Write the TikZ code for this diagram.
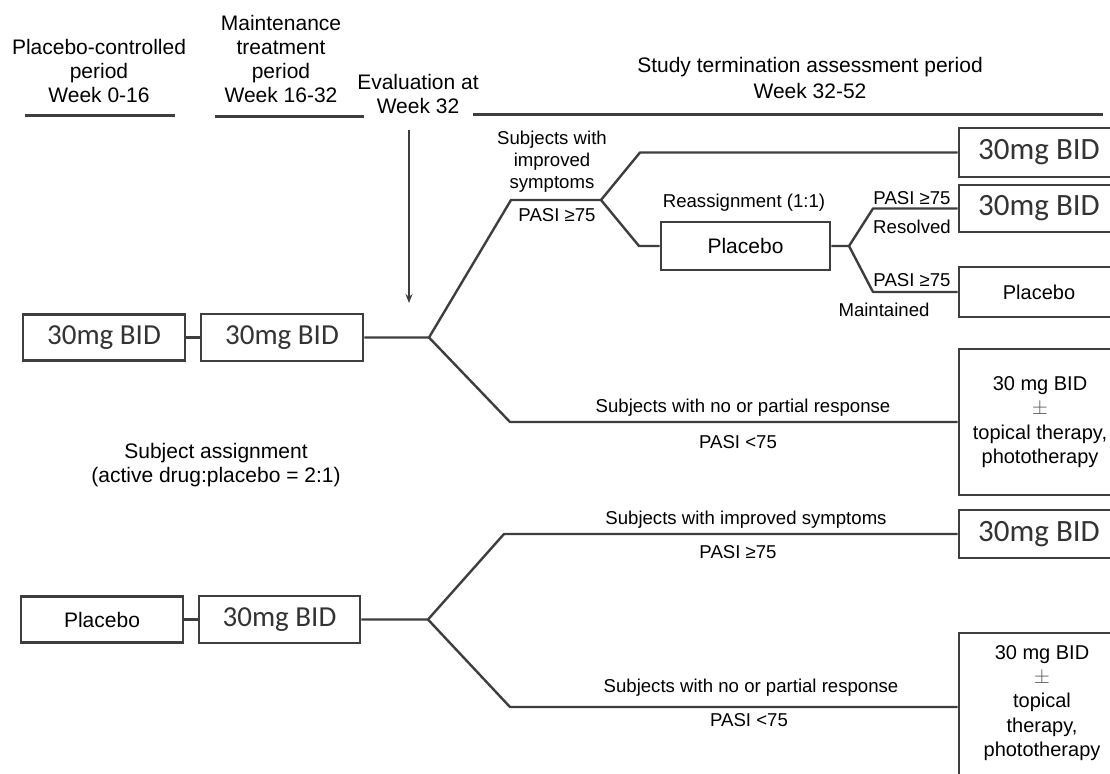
\documentclass[tikz,border=0pt]{standalone}
\usepackage{fontspec}
\setmainfont{Liberation Sans}
\newfontfamily\calfont{Carlito}
\usetikzlibrary{arrows.meta}
\definecolor{linegray}{HTML}{3E3E3E}
\definecolor{drugtext}{HTML}{333333}
\definecolor{pmgray}{HTML}{555555}
\begin{document}
\begin{tikzpicture}[x=1pt,y=-1pt,
  ln/.style={draw=linegray,line width=2.4pt,line join=round},
  hline/.style={draw=linegray,line width=3pt},
  box/.style={draw=linegray,line width=2.6pt,rectangle,inner sep=0pt},
  drug/.style={font=\calfont\fontsize{29}{30}\selectfont,text=drugtext},
  drugR/.style={font=\calfont\fontsize{31}{32}\selectfont,text=drugtext},
  plain/.style={font=\fontsize{21}{24}\selectfont},
  hdr/.style={font=\fontsize{21}{24}\selectfont,align=center,inner sep=0pt},
  lbl/.style={font=\fontsize{18.6}{22}\selectfont,align=center,inner sep=0pt},
  multi/.style={font=\fontsize{20}{24.5}\selectfont,align=center,inner sep=0pt},
]
\useasboundingbox (0,0) rectangle (1110,773);
\clip (0,0) rectangle (1110,773);

% headers
\node[hdr] (h1) at (99,71) {Placebo-controlled\\period\\Week 0-16};
\node[hdr] (h2) at (281,58.5) {Maintenance\\treatment\\period\\Week 16-32};
\node[hdr] (h3) at (418,94) {Evaluation at\\Week 32};
\node[hdr,font=\fontsize{21}{26.5}\selectfont] (h4) at (810,78) {Study termination assessment period\\Week 32-52};
\draw[hline] (25,116) -- (175,116);
\draw[hline] (215,116.5) -- (364,116.5);
\draw[hline] (473,115) -- (1103,115);

% evaluation arrow
\coordinate (a1) at (409,130);
\coordinate (a2) at (409,303);
\draw[draw=linegray,line width=2pt,-{Stealth[length=9pt,width=7pt]}] (a1) -- (a2);

% row 1
\node[box,drug,minimum width=162pt,minimum height=46pt] (b1) at (104,337.5) {30mg BID};
\node[box,drug,minimum width=162pt,minimum height=47pt] (b2) at (282,337.5) {30mg BID};
\draw[ln] (b1.east) -- (b2.west);

\node[box,drugR,minimum width=160pt,minimum height=49pt] (bA) at (1039,152.5) {30mg BID};
\node[box,plain,minimum width=169pt,minimum height=48pt] (plc) at (745.5,246) {Placebo};
\node[box,drugR,minimum width=160pt,minimum height=47pt] (bB) at (1039,208.5) {30mg BID};
\node[box,plain,font=\fontsize{20}{24}\selectfont,minimum width=160pt,minimum height=50pt] (bC) at (1039,292) {Placebo};
\node[box,minimum width=160pt,minimum height=146pt] (bD) at (1039,422) {};
\node[multi] (tD) at (1040,422) {30 mg BID\\{\color{pmgray}$\fontsize{17}{24.5}\selectfont\pm$}\\topical therapy,\\phototherapy};

\coordinate (j1) at (429,337.5);
\coordinate (u1) at (511,200);
\coordinate (u2) at (601,200);
\coordinate (u3) at (640,152.5);
\coordinate (u4) at (639,246);
\coordinate (j3) at (849,246);
\coordinate (r1) at (873,208.5);
\coordinate (r2) at (873,292);
\coordinate (d1) at (510,422);

\draw[ln] (b2.east) -- (j1) -- (u1) -- (u2) -- (u3) -- (bA.west);
\draw[ln] (u2) -- (u4) -- (plc.west);
\draw[ln] (plc.east) -- (j3) -- (r1) -- (bB.west);
\draw[ln] (j3) -- (r2) -- (bC.west);
\draw[ln] (j1) -- (d1) -- (bD.west);

\node[lbl] (l1) at (552,162) {Subjects with\\improved\\symptoms};
\node[lbl] (l2) at (557,215) {PASI ≥75};
\node[lbl] (l3) at (744,203) {Reassignment (1:1)};
\node[lbl] (l4) at (912,198) {PASI ≥75};
\node[lbl] (l5) at (912,227) {Resolved};
\node[lbl] (l6) at (912,280) {PASI ≥75};
\node[lbl] (l7) at (884,310) {Maintained};
\node[lbl] (l8) at (743,408) {Subjects with no or partial response};
\node[lbl] (l9) at (738,442) {PASI <75};

% assignment
\node[hdr] (sa) at (216,465) {Subject assignment\\(active drug:placebo = 2:1)};

% row 2
\node[box,plain,minimum width=162pt,minimum height=46pt] (p2) at (102,619.5) {Placebo};
\node[box,drug,minimum width=161pt,minimum height=47pt] (b3) at (279.5,619.5) {30mg BID};
\draw[ln] (p2.east) -- (b3.west);

\node[box,drugR,minimum width=160pt,minimum height=48pt] (bE) at (1039,534) {30mg BID};
\node[box,minimum width=160pt,minimum height=148pt] (bF) at (1039,707) {};
\node[multi,font=\fontsize{20}{24.3}\selectfont] (tF) at (1042,703) {30 mg BID\\{\color{pmgray}$\fontsize{17}{24.3}\selectfont\pm$}\\topical\\therapy,\\phototherapy};

\coordinate (j2) at (428,619.5);
\coordinate (e1) at (504,534);
\coordinate (f1) at (510,707);
\draw[ln] (b3.east) -- (j2) -- (e1) -- (bE.west);
\draw[ln] (j2) -- (f1) -- (bF.west);

\node[lbl] (m1) at (746,520) {Subjects with improved symptoms};
\node[lbl] (m2) at (738,552) {PASI ≥75};
\node[lbl] (m3) at (751,688) {Subjects with no or partial response};
\node[lbl] (m4) at (749,720) {PASI <75};
\end{tikzpicture}
\end{document}
